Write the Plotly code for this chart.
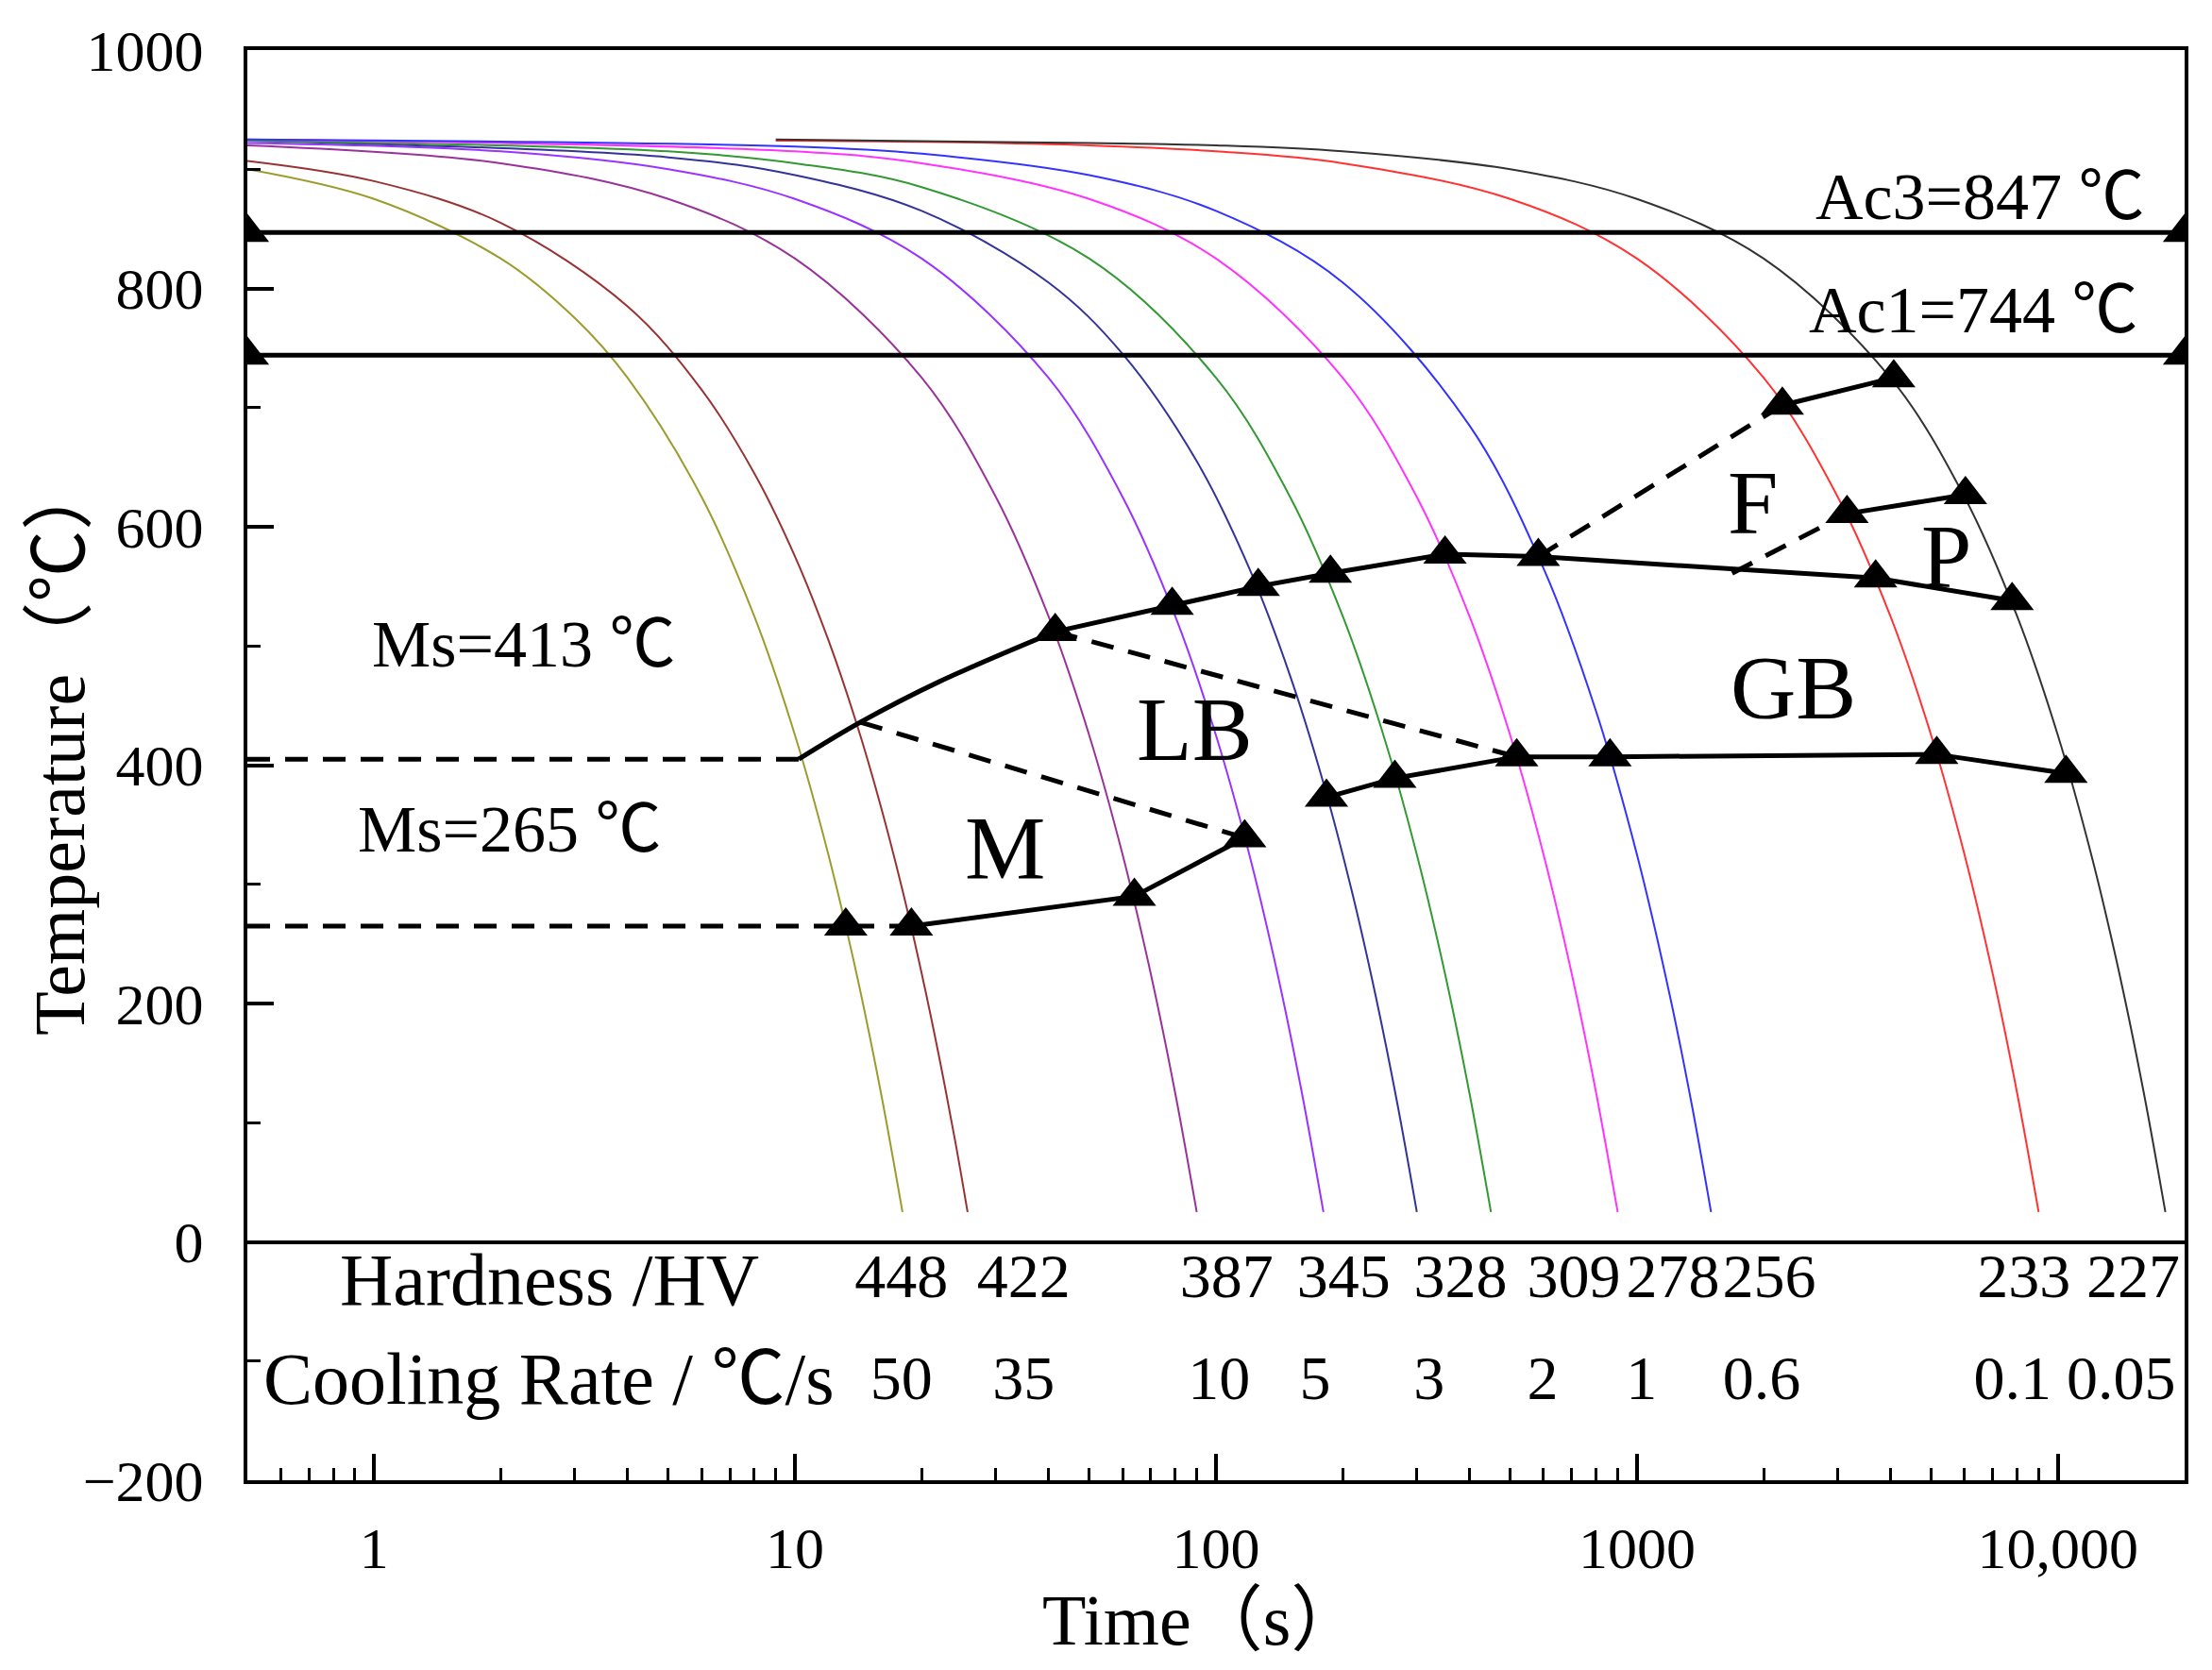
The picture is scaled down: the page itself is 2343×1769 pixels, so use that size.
import numpy as np
import plotly.graph_objects as go

# cooling curves: time (s) and temperature (°C)
t_50 = [0.5, 1, 2, 3, 4, 6, 8, 10, 12, 14, 16, 18]
T_50 = [900, 875, 825, 775, 725, 625, 525, 425, 325, 225, 125, 25]
t_35 = [0.5, 1, 2, 4, 6, 8, 10, 12, 14, 16, 18, 20, 22, 24, 25.7]
T_35 = [907, 890, 855, 785, 715, 645, 575, 505, 435, 365, 295, 225, 155, 85, 25]
t_10 = [0.5, 2, 5, 10, 20, 30, 40, 50, 60, 70, 80, 90]
T_10 = [920, 905, 875, 825, 725, 625, 525, 425, 325, 225, 125, 25]
t_5 = [0.5, 2, 5, 10, 20, 40, 60, 80, 100, 120, 140, 160, 180]
T_5 = [922, 915, 900, 875, 825, 725, 625, 525, 425, 325, 225, 125, 25]
t_3 = [0.5, 5, 10, 20, 40, 60, 90, 120, 150, 180, 210, 240, 270, 300]
T_3 = [924, 910, 895, 865, 805, 745, 655, 565, 475, 385, 295, 205, 115, 25]
t_2 = [0.5, 5, 10, 20, 50, 100, 150, 200, 250, 300, 350, 400, 450]
T_2 = [924, 915, 905, 885, 825, 725, 625, 525, 425, 325, 225, 125, 25]
t_1 = [0.5, 10, 20, 50, 100, 200, 300, 400, 500, 600, 700, 800, 900]
T_1 = [925, 915, 905, 875, 825, 725, 625, 525, 425, 325, 225, 125, 25]
t_06 = [0.5, 10, 20, 50, 100, 200, 400, 600, 800, 1000, 1200, 1350, 1500]
T_06 = [925, 919, 913, 895, 865, 805, 685, 565, 445, 325, 205, 115, 25]
t_01 = [9, 20, 50, 100, 200, 500, 1000, 2000, 3000, 4000, 5000, 6000, 7000, 8000, 9000]
T_01 = [924, 923, 920, 915, 905, 875, 825, 725, 625, 525, 425, 325, 225, 125, 25]
t_005 = [9, 50, 100, 200, 500, 1000, 2000, 4000, 6000, 8000, 10000, 12000, 14000, 16000, 18000]
T_005 = [925, 922, 920, 915, 900, 875, 825, 725, 625, 525, 425, 325, 225, 125, 25]

# critical temperatures
Ac3 = 847
Ac1 = 744
Ms_upper = 405
Ms_lower = 265

# transformation start/finish lines
bs_curve_t = [10.2, 14.3, 22, 41.5]
bs_curve_T = [405, 436, 470, 512]
bs_top_t = [41.5, 78.7, 126, 187, 350, 583, 3690, 7785]
bs_top_T = [512, 534, 550, 561, 577, 575, 557, 538]
m_low_t = [18.9, 64, 117]
m_low_T = [265, 290, 339]
b_low_t = [183, 266, 518, 863, 5155, 10450]
b_low_T = [373, 389, 407, 407, 409, 393]
f_dash_t = [583, 2215]
f_dash_T = [575, 702]
f_solid_t = [2215, 4074]
f_solid_T = [702, 725]
p_dash_t = [1683, 3155]
p_dash_T = [561, 611]
p_solid_t = [3155, 6030]
p_solid_T = [611, 627]
lb_dash1_t = [14.3, 117]
lb_dash1_T = [436, 339]
lb_dash2_t = [41.5, 518]
lb_dash2_T = [512, 407]

# measured points (triangles)
tri_t = [13.2, 18.9, 64, 117, 41.5, 78.7, 126, 187, 350, 583, 183, 266, 518, 863,
         5155, 10450, 3690, 7785, 2215, 4074, 3155, 6030]
tri_T = [265, 265, 290, 339, 512, 534, 550, 561, 577, 575, 373, 389, 407, 407,
         409, 393, 557, 538, 702, 725, 611, 627]

# table under the curves
hardness = [448, 422, 387, 345, 328, 309, 278, 256, 233, 227]
hardness_t = [17.9, 34.9, 106, 201, 381, 708, 1217, 2061, 8300, 15100]
cooling_rate = ['50', '35', '10', '5', '3', '2', '1', '0.6', '0.1', '0.05']
cooling_rate_t = [17.9, 34.9, 101.7, 172, 321, 597, 1026, 1978, 7800, 14140]

t_min = 0.5
t_max = 20000

serif = 'Liberation Serif, Times New Roman, Noto Sans CJK SC, serif'

curves = [(t_50, T_50, '#9c9c2e'), (t_35, T_35, '#993333'), (t_10, T_10, '#993399'),
          (t_5, T_5, '#9933ff'), (t_3, T_3, '#333399'), (t_2, T_2, '#339933'),
          (t_1, T_1, '#ff33ff'), (t_06, T_06, '#3333ff'), (t_01, T_01, '#ff3333'),
          (t_005, T_005, '#333333')]

fig = go.Figure()

for tt, TT, col in curves:
    fig.add_trace(go.Scatter(x=tt, y=TT, mode='lines', line=dict(color=col, width=2, shape='spline'),
                             showlegend=False))

# Ac lines with end markers
for temp in [Ac3, Ac1]:
    fig.add_trace(go.Scatter(x=[t_min, t_max], y=[temp, temp], mode='lines+markers',
                             line=dict(color='black', width=5),
                             marker=dict(symbol='triangle-up', size=40, color='black'),
                             showlegend=False))

# Ms dashed lines
fig.add_trace(go.Scatter(x=[t_min, bs_curve_t[0]], y=[Ms_upper, Ms_upper], mode='lines',
                         line=dict(color='black', width=5, dash='24px,16px'), showlegend=False))
fig.add_trace(go.Scatter(x=[t_min, m_low_t[0]], y=[Ms_lower, Ms_lower], mode='lines',
                         line=dict(color='black', width=5, dash='24px,16px'), showlegend=False))

fig.add_trace(go.Scatter(x=bs_curve_t, y=bs_curve_T, mode='lines',
                         line=dict(color='black', width=5, shape='spline'), showlegend=False))

for xx, yy in [(bs_top_t, bs_top_T), (m_low_t, m_low_T), (b_low_t, b_low_T),
               (f_solid_t, f_solid_T), (p_solid_t, p_solid_T)]:
    fig.add_trace(go.Scatter(x=xx, y=yy, mode='lines', line=dict(color='black', width=5),
                             showlegend=False))

for xx, yy in [(f_dash_t, f_dash_T), (p_dash_t, p_dash_T), (lb_dash1_t, lb_dash1_T),
               (lb_dash2_t, lb_dash2_T)]:
    fig.add_trace(go.Scatter(x=xx, y=yy, mode='lines',
                             line=dict(color='black', width=5, dash='24px,16px'), showlegend=False))

fig.add_trace(go.Scatter(x=tri_t, y=tri_T, mode='markers',
                         marker=dict(symbol='triangle-up', size=40, color='black'), showlegend=False))

# hardness / cooling rate rows
fig.add_trace(go.Scatter(x=hardness_t, y=[-33] * len(hardness), mode='text',
                         text=[str(h) for h in hardness],
                         textfont=dict(family=serif, size=66, color='black'), showlegend=False))
fig.add_trace(go.Scatter(x=cooling_rate_t, y=[-119] * len(cooling_rate), mode='text',
                         text=cooling_rate,
                         textfont=dict(family=serif, size=66, color='black'), showlegend=False))

labels = [
    ('Ac3=847 ℃', 4.212, 877, 'right', 70),
    ('Ac1=744 ℃', 4.196, 782, 'right', 70),
    ('Ms=413 ℃', 0.355, 501, 'center', 70),
    ('Ms=265 ℃', 0.322, 346, 'center', 70),
    ('F', 3.276, 620, 'center', 96),
    ('P', 3.735, 575, 'center', 96),
    ('GB', 3.371, 465, 'center', 96),
    ('LB', 1.950, 430, 'center', 96),
    ('M', 1.4995, 330, 'center', 96),
    ('Hardness /HV', 0.416, -32, 'center', 78),
    ('Cooling Rate / ℃/s', 0.416, -115, 'center', 78),
]
for txt, lx, ly, anchor, fs in labels:
    fig.add_annotation(x=lx, y=ly, xref='x', yref='y', text=txt, showarrow=False,
                       xanchor=anchor, yanchor='middle',
                       font=dict(family=serif, size=fs, color='black'))

# axis titles
fig.add_annotation(x=-0.097, y=0.513, xref='paper', yref='paper', text='Temperature（℃）',
                   textangle=-90, showarrow=False, xanchor='center', yanchor='middle',
                   font=dict(family=serif, size=76, color='black'))
fig.add_annotation(x=0.493, y=-0.098, xref='paper', yref='paper', text='Time（s）',
                   showarrow=False, xanchor='center', yanchor='middle',
                   font=dict(family=serif, size=76, color='black'))

fig.update_xaxes(type='log', range=[np.log10(t_min), np.log10(t_max)],
                 tickvals=[1, 10, 100, 1000, 10000], ticktext=['1', '10', '100', '1000', '10,000'],
                 ticks='inside', ticklen=28, tickwidth=4, tickcolor='black',
                 showline=True, linewidth=4, linecolor='black', mirror=True,
                 showgrid=False, zeroline=False,
                 minor=dict(ticks='inside', ticklen=13, tickwidth=3, tickcolor='black',
                            dtick='D1', showgrid=False),
                 tickfont=dict(family=serif, size=62, color='black'), ticklabelstandoff=15)

fig.update_yaxes(range=[-200, 1000], tick0=0, dtick=200,
                 ticks='inside', ticklen=28, tickwidth=4, tickcolor='black',
                 showline=True, linewidth=4, linecolor='black', mirror=True,
                 showgrid=False, zeroline=True, zerolinecolor='black', zerolinewidth=4,
                 minor=dict(ticks='inside', ticklen=14, tickwidth=3, tickcolor='black',
                            dtick=100, showgrid=False),
                 tickfont=dict(family=serif, size=62, color='black'), ticklabelstandoff=30)

fig.update_layout(width=2327, height=1753, plot_bgcolor='white', paper_bgcolor='white',
                  margin=dict(l=254, r=21, t=39, b=193), showlegend=False)

fig.write_html("out.html")
